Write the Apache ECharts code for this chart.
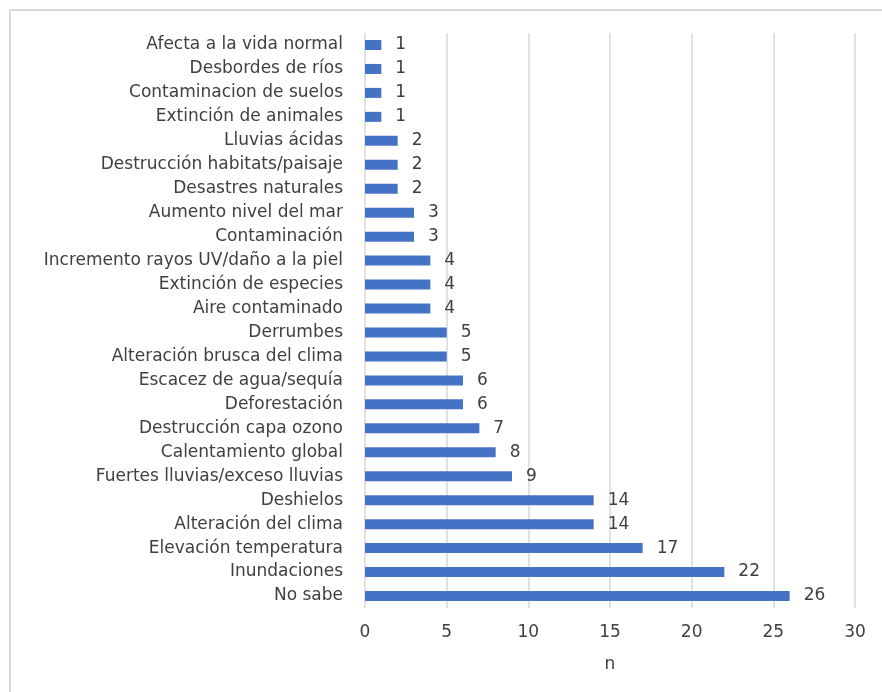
<!DOCTYPE html>
<html>
<head>
<meta charset="utf-8">
<script src="https://cdn.jsdelivr.net/npm/echarts@6/dist/echarts.min.js"></script>
<style>
html, body { margin: 0; padding: 0; background: #fff; }
#chart { width: 882px; height: 692px; }
</style>
</head>
<body>
<div id="chart"></div>
<script>
// Categories listed bottom to top (first item sits at the axis origin)
const categories = [
  'No sabe',
  'Inundaciones',
  'Elevación temperatura',
  'Alteración del clima',
  'Deshielos',
  'Fuertes lluvias/exceso lluvias',
  'Calentamiento global',
  'Destrucción capa ozono',
  'Deforestación',
  'Escacez de agua/sequía',
  'Alteración brusca del clima',
  'Derrumbes',
  'Aire contaminado',
  'Extinción de especies',
  'Incremento rayos UV/daño a la piel',
  'Contaminación',
  'Aumento nivel del mar',
  'Desastres naturales',
  'Destrucción habitats/paisaje',
  'Lluvias ácidas',
  'Extinción de animales',
  'Contaminacion de suelos',
  'Desbordes de ríos',
  'Afecta a la vida normal'
];
const counts = [26, 22, 17, 14, 14, 9, 8, 7, 6, 6, 5, 5, 4, 4, 4, 3, 3, 2, 2, 2, 1, 1, 1, 1];
const axisName = 'n';

const font = 'DejaVu Sans, sans-serif';
const textColor = '#404040';

const chart = echarts.init(document.getElementById('chart'), null, { renderer: 'canvas' });
chart.setOption({
  animation: false,
  backgroundColor: '#fff',
  graphic: [
    { type: 'line', shape: { x1: 10, y1: 10, x2: 882, y2: 10 }, style: { stroke: '#d9d9d9', lineWidth: 2 } },
    { type: 'line', shape: { x1: 10, y1: 10, x2: 10, y2: 692 }, style: { stroke: '#d9d9d9', lineWidth: 2 } }
  ],
  grid: { left: 365, right: 27, top: 33, bottom: 84, containLabel: false },
  xAxis: {
    type: 'value',
    min: 0, max: 30, interval: 5,
    name: axisName,
    nameLocation: 'middle',
    nameGap: 48,
    nameTextStyle: { color: textColor, fontSize: 17, fontFamily: font },
    axisLine: { show: false },
    axisTick: { show: false },
    axisLabel: { color: textColor, fontSize: 17, fontFamily: font, margin: 16 },
    splitLine: { show: true, lineStyle: { color: '#d9d9d9', width: 1.5 } }
  },
  yAxis: {
    type: 'category',
    data: categories,
    axisLine: { show: false },
    axisTick: { show: false },
    axisLabel: { color: textColor, fontSize: 17, fontFamily: font, margin: 22 },
    splitLine: { show: false }
  },
  series: [{
    type: 'bar',
    data: counts,
    barWidth: 10,
    itemStyle: { color: '#4472C4' },
    label: {
      show: true,
      position: 'right',
      distance: 14,
      color: textColor,
      fontSize: 17,
      fontFamily: font
    }
  }]
});
</script>
</body>
</html>
